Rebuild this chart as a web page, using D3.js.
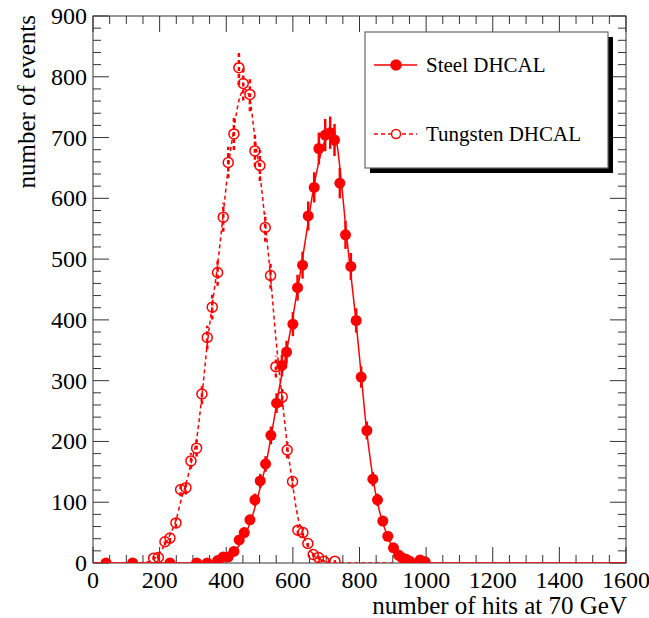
<!DOCTYPE html>
<html>
<head>
<meta charset="utf-8">
<script src="https://cdn.jsdelivr.net/npm/d3@7"></script>
<style>
  body { margin: 0; background: #fff; }
  svg { display: block; font-family: "Liberation Serif", "DejaVu Serif", serif; }
</style>
</head>
<body>
<svg id="chart"></svg>
<script>
// data
const steelX = [39, 119, 231, 311, 343, 374, 391, 406, 423, 439, 454, 471, 486, 502, 518, 534, 551, 567, 581, 600, 614, 629, 646, 664, 678, 697, 712, 725, 741, 758, 774, 790, 805, 822, 840, 854, 870, 885, 902, 917, 927, 940, 951, 982, 997];
const steelY = [0, 0, 0, 0, 0, 4, 10, 10, 19, 38, 50, 71, 104, 135, 163, 210, 263, 325, 347, 393, 453, 490, 571, 618, 682, 704, 708, 696, 625, 540, 488, 399, 306, 218, 138, 104, 69, 44, 25, 13, 9, 6, 3, 5, 2];

const tungX = [182, 196, 216, 231, 249, 263, 279, 294, 311, 327, 343, 358, 374, 391, 406, 423, 438, 451, 471, 486, 501, 517, 533, 549, 568, 583, 599, 615, 630, 645, 661, 677, 693, 726];
const tungY = [8, 9, 35, 41, 66, 121, 124, 168, 189, 278, 371, 421, 478, 569, 659, 706, 815, 789, 771, 678, 654, 552, 473, 323, 273, 186, 134, 54, 50, 32, 14, 9, 3, 3];

// fitted curves
const steelFitX = [0, 360, 380, 400, 420, 440, 460, 480, 500, 520, 540, 560, 580, 600, 620, 640, 660, 680, 700, 715, 730, 745, 760, 775, 790, 805, 820, 835, 850, 865, 880, 895, 910, 930, 960, 1000, 1600];
const steelFitY = [0, 0, 3, 8, 16, 30, 50, 80, 120, 165, 225, 290, 345, 405, 470, 540, 610, 665, 700, 708, 695, 630, 545, 470, 395, 310, 225, 160, 110, 75, 50, 30, 18, 8, 2, 0, 0];

const tungFitX = [140, 170, 190, 210, 230, 250, 265, 280, 295, 310, 327, 343, 358, 374, 391, 406, 423, 440, 455, 470, 486, 501, 517, 533, 549, 568, 583, 599, 615, 630, 645, 661, 680, 700, 730, 900];
const tungFitY = [0, 3, 10, 25, 45, 72, 105, 132, 165, 200, 275, 360, 425, 490, 575, 650, 715, 765, 780, 765, 700, 640, 560, 470, 370, 270, 195, 130, 75, 48, 28, 14, 6, 2, 0, 0];

const xTicks = [0, 200, 400, 600, 800, 1000, 1200, 1400, 1600];
const yTicks = [0, 100, 200, 300, 400, 500, 600, 700, 800, 900];
const legendLabels = ["Steel DHCAL", "Tungsten DHCAL"];

const W = 649, H = 618;
const margin = { top: 16, right: 23, bottom: 55, left: 93 };
const pw = W - margin.left - margin.right;
const ph = H - margin.top - margin.bottom;

const svg = d3.select("#chart").attr("width", W).attr("height", H);
const g = svg.append("g").attr("transform", `translate(${margin.left},${margin.top})`);

const x = d3.scaleLinear().domain([0, 1600]).range([0, pw]);
const y = d3.scaleLinear().domain([0, 900]).range([ph, 0]);

const red = "#ff0000";
const frameColor = "#333";

g.append("clipPath").attr("id", "clip")
  .append("rect").attr("width", pw).attr("height", ph);

// frame
g.append("rect").attr("width", pw).attr("height", ph)
  .attr("fill", "none").attr("stroke", frameColor).attr("stroke-width", 1);

// ticks on all four sides, pointing inwards
const majorLen = 16, minorLen = 8;
const xMinor = d3.range(0, 1601, 50);
const yMinor = d3.range(0, 901, 20);

xMinor.forEach(v => {
  const len = v % 200 === 0 ? majorLen : minorLen;
  g.append("line").attr("x1", x(v)).attr("x2", x(v)).attr("y1", ph).attr("y2", ph - len)
    .attr("stroke", frameColor);
  g.append("line").attr("x1", x(v)).attr("x2", x(v)).attr("y1", 0).attr("y2", len)
    .attr("stroke", frameColor);
});
yMinor.forEach(v => {
  const len = v % 100 === 0 ? majorLen : minorLen;
  g.append("line").attr("y1", y(v)).attr("y2", y(v)).attr("x1", 0).attr("x2", len)
    .attr("stroke", frameColor);
  g.append("line").attr("y1", y(v)).attr("y2", y(v)).attr("x1", pw).attr("x2", pw - len)
    .attr("stroke", frameColor);
});

// tick labels
g.selectAll(".xlab").data(xTicks).enter().append("text")
  .attr("x", d => x(d)).attr("y", ph + 25)
  .attr("text-anchor", "middle")
  .attr("font-size", 24)
  .text(d => d);

g.selectAll(".ylab").data(yTicks).enter().append("text")
  .attr("x", -6).attr("y", d => y(d) + 8)
  .attr("text-anchor", "end")
  .attr("font-size", 24)
  .text(d => d);

// axis titles
svg.append("text")
  .attr("x", 627).attr("y", 614)
  .attr("text-anchor", "end")
  .attr("font-size", 25)
  .text("number of hits at 70 GeV");

svg.append("text")
  .attr("transform", "translate(35,15) rotate(-90)")
  .attr("text-anchor", "end")
  .attr("font-size", 25)
  .text("number of events");

// curves
const plot = g.append("g").attr("clip-path", "url(#clip)");
const line = d3.line().x(d => x(d[0])).y(d => y(d[1])).curve(d3.curveMonotoneX);

plot.append("path")
  .datum(steelFitX.map((v, i) => [v, steelFitY[i]]))
  .attr("d", line)
  .attr("fill", "none").attr("stroke", red).attr("stroke-width", 1.5);

plot.append("path")
  .datum(tungFitX.map((v, i) => [v, tungFitY[i]]))
  .attr("d", line)
  .attr("fill", "none").attr("stroke", red).attr("stroke-width", 1.5)
  .attr("stroke-dasharray", "4,3");

// points with Poisson error bars
const steel = steelX.map((v, i) => ({ x: v, y: steelY[i] }));
const tung = tungX.map((v, i) => ({ x: v, y: tungY[i] }));

plot.selectAll(".terr").data(tung.filter(d => d.y > 0)).enter().append("line")
  .attr("x1", d => x(d.x)).attr("x2", d => x(d.x))
  .attr("y1", d => y(d.y - Math.sqrt(d.y))).attr("y2", d => y(d.y + Math.sqrt(d.y)))
  .attr("stroke", red).attr("stroke-width", 2.5)
  .attr("stroke-dasharray", "4,3");

plot.selectAll(".tpt").data(tung).enter().append("circle")
  .attr("cx", d => x(d.x)).attr("cy", d => y(d.y))
  .attr("r", 5)
  .attr("fill", "none").attr("stroke", red).attr("stroke-width", 1.5);

plot.selectAll(".serr").data(steel.filter(d => d.y > 0)).enter().append("line")
  .attr("x1", d => x(d.x)).attr("x2", d => x(d.x))
  .attr("y1", d => y(d.y - Math.sqrt(d.y))).attr("y2", d => y(d.y + Math.sqrt(d.y)))
  .attr("stroke", red).attr("stroke-width", 2.5);

plot.selectAll(".spt").data(steel).enter().append("circle")
  .attr("cx", d => x(d.x)).attr("cy", d => y(d.y))
  .attr("r", 5.5)
  .attr("fill", red);

// legend with drop shadow
const lg = svg.append("g").attr("transform", "translate(365,32)");
const lw = 243, lh = 136;
lg.append("rect").attr("x", 5).attr("y", 5).attr("width", lw).attr("height", lh).attr("fill", "#000");
lg.append("rect").attr("width", lw).attr("height", lh)
  .attr("fill", "#fff").attr("stroke", "#666").attr("stroke-width", 1.2);

const rows = [33, 102];
rows.forEach((ry, i) => {
  lg.append("line").attr("x1", 9).attr("x2", 52).attr("y1", ry).attr("y2", ry)
    .attr("stroke", red).attr("stroke-width", 1.5)
    .attr("stroke-dasharray", i === 1 ? "4,3" : null);
  lg.append("circle").attr("cx", 31).attr("cy", ry).attr("r", i === 0 ? 5 : 4.5)
    .attr("fill", i === 0 ? red : "#fff")
    .attr("stroke", red).attr("stroke-width", 1.5);
  lg.append("text").attr("x", 61).attr("y", ry + 7)
    .attr("font-size", 21)
    .text(legendLabels[i]);
});
</script>
</body>
</html>
